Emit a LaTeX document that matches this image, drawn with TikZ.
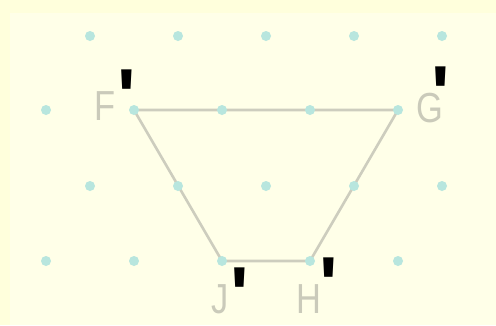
\documentclass[tikz,border=0pt]{standalone}
\usepackage{fontspec}
\setmainfont{Liberation Sans}
\newfontfamily\labelfont[FakeStretch=0.82]{Liberation Sans}
\newfontfamily\markfont[Ligatures=ResetAll]{Liberation Sans}
\usetikzlibrary{positioning}
\definecolor{paper}{HTML}{FFFFDC}
\definecolor{sheet}{HTML}{FFFFE8}
\definecolor{lattice}{HTML}{B8E6DE}
\definecolor{edgegray}{HTML}{CDCDBE}
\definecolor{lblgray}{HTML}{CACABA}
\newcommand{\primetick}{\raisebox{-0.45em}[0.27em][0pt]{'}}

\begin{document}
\begin{tikzpicture}[x=1pt,y=-1pt,
  vlabel/.style={text=lblgray,font=\labelfont\fontsize{42}{42}\selectfont,inner sep=0pt},
  primemark/.style={font=\markfont\bfseries\fontsize{78}{78}\selectfont,inner sep=0pt}]
  % background
  \fill[paper] (0,0) rectangle (496,325);
  \fill[sheet] (10,13) rectangle (496,325);
  % vertices
  \coordinate (F) at (134,110);
  \coordinate (G) at (398,110);
  \coordinate (H) at (310,261);
  \coordinate (J) at (222,261);
  % trapezoid
  \draw[edgegray,line width=2.6pt,line join=round] (F) -- (G) -- (H) -- (J) -- cycle;
  % lattice
  \foreach \y/\s in {36/90,110/46,186/90,261/46}
    \foreach \k in {0,...,4}
      \fill[lattice] (\s+88*\k,\y) circle (5);
  % labels
  \node[vlabel] (lF) at (105,106) {F};
  \node[vlabel] (lG) at (430,108) {G};
  \node[vlabel] (lJ) at (220,299) {J};
  \node[vlabel] (lH) at (309,299) {H};
  \node[primemark] (pF) at (127,78) {\primetick};
  \node[primemark] (pG) at (441,75) {\primetick};
  \node[primemark] (pJ) at (240,276) {\primetick};
  \node[primemark] (pH) at (329,266) {\primetick};
\end{tikzpicture}
\end{document}
